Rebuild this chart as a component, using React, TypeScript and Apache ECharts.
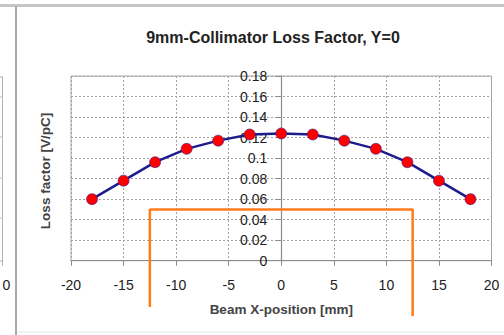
import React, { useEffect, useRef } from "react";
import * as echarts from "echarts";

const positions = [-18, -15, -12, -9, -6, -3, 0, 3, 6, 9, 12, 15, 18];
const lossFactor = [0.06, 0.078, 0.096, 0.109, 0.117, 0.123, 0.124, 0.123, 0.117, 0.109, 0.096, 0.078, 0.06];
const collimatorX = [-12.5, -12.5, 12.5, 12.5];
const collimatorY = [-0.045, 0.05, 0.05, -0.054];

const FONT = "'Liberation Sans', Arial, sans-serif";
const GRID_LEFT = 71;
const GRID_RIGHT = 12.5;
const CHART_W = 504;

export default function App() {
  const ref = useRef<HTMLDivElement>(null);
  useEffect(() => {
    if (!ref.current) return;
    const chart = echarts.init(ref.current, null, { renderer: "svg" });
    const plotW = CHART_W - GRID_LEFT - GRID_RIGHT;
    chart.setOption({
      animation: false,
      backgroundColor: "#ffffff",
      title: {
        text: "9mm-Collimator Loss Factor, Y=0",
        left: 268,
        top: 24,
        textAlign: "center",
        textStyle: { fontFamily: FONT, fontSize: 16, fontWeight: "bold", color: "#222" },
      },
      grid: {
        left: GRID_LEFT,
        right: GRID_RIGHT,
        top: 76,
        bottom: 74.3,
        show: true,
        borderColor: "#a8a8a8",
        borderWidth: 1,
        containLabel: false,
      },
      xAxis: {
        type: "value",
        min: -20,
        max: 20,
        interval: 5,
        name: "Beam X-position [mm]",
        nameLocation: "middle",
        nameGap: 42,
        nameTextStyle: { fontFamily: FONT, fontSize: 13.5, fontWeight: "bold", color: "#444" },
        axisLine: { show: true, onZero: false, lineStyle: { color: "#8a8a8a", width: 1.2 } },
        axisTick: { show: true, length: 5, lineStyle: { color: "#8a8a8a" } },
        axisLabel: { fontFamily: FONT, fontSize: 14, color: "#222", margin: 17 },
        splitLine: { show: true, lineStyle: { color: "#a0a0a0", type: [2, 2], width: 1 } },
      },
      yAxis: {
        type: "value",
        min: 0,
        max: 0.18,
        interval: 0.02,
        offset: -plotW / 2,
        axisLine: { show: true, onZero: false, lineStyle: { color: "#8a8a8a", width: 1.2 } },
        axisTick: { show: true, length: 6, lineStyle: { color: "#8a8a8a" } },
        axisLabel: { fontFamily: FONT, fontSize: 14, color: "#222", margin: 14 },
        splitLine: { show: true, lineStyle: { color: "#a0a0a0", type: [2, 2], width: 1 } },
      },
      graphic: [
        { type: "rect", shape: { x: 0, y: 4, width: 504, height: 3 }, style: { fill: "#c6c6c6" }, silent: true },
        { type: "rect", shape: { x: 15, y: 6, width: 2, height: 329 }, style: { fill: "#a8a8a8" }, silent: true },
        { type: "line", shape: { x1: 17, y1: 332, x2: 504, y2: 332 }, style: { stroke: "#e8e8e8", lineWidth: 1 }, silent: true },
        { type: "line", shape: { x1: 2.5, y1: 77, x2: 2.5, y2: 266 }, style: { stroke: "#b0b0b0", lineWidth: 1 }, silent: true },
        { type: "line", shape: { x1: 0, y1: 77, x2: 2.5, y2: 77 }, style: { stroke: "#b0b0b0", lineWidth: 1 }, silent: true },
        { type: "line", shape: { x1: 0, y1: 97, x2: 2.5, y2: 97 }, style: { stroke: "#c0c0c0", lineWidth: 1 }, silent: true },
        { type: "line", shape: { x1: 0, y1: 137, x2: 2.5, y2: 137 }, style: { stroke: "#c0c0c0", lineWidth: 1 }, silent: true },
        { type: "line", shape: { x1: 0, y1: 178, x2: 2.5, y2: 178 }, style: { stroke: "#c0c0c0", lineWidth: 1 }, silent: true },
        { type: "line", shape: { x1: 0, y1: 218, x2: 2.5, y2: 218 }, style: { stroke: "#c0c0c0", lineWidth: 1 }, silent: true },
        { type: "line", shape: { x1: 0, y1: 261, x2: 2.5, y2: 261 }, style: { stroke: "#b0b0b0", lineWidth: 1 }, silent: true },
        {
          type: "text",
          x: 6.5,
          y: 285,
          style: { text: "0", font: `14px ${FONT}`, fill: "#222", align: "center", verticalAlign: "middle" },
          silent: true,
        },
        {
          type: "text",
          x: 45,
          y: 171,
          rotation: Math.PI / 2,
          style: {
            text: "Loss factor [V/pC]",
            font: `bold 13.5px ${FONT}`,
            fill: "#444",
            align: "center",
            verticalAlign: "middle",
          },
          silent: true,
        },
      ],
      series: [
        {
          type: "line",
          data: collimatorX.map((x, i) => [x, collimatorY[i]]),
          clip: false,
          symbol: "none",
          lineStyle: { color: "#ff7b1c", width: 2.5 },
          z: 3,
        },
        {
          type: "line",
          data: positions.map((x, i) => [x, lossFactor[i]]),
          symbol: "circle",
          symbolSize: 11,
          lineStyle: { color: "#1c1c8c", width: 2.5 },
          itemStyle: { color: "#ff0000", borderColor: "#3a1a8a", borderWidth: 0.6 },
          z: 4,
        },
      ],
    });
    return () => chart.dispose();
  }, []);
  return <div ref={ref} style={{ position: "fixed", left: 0, top: 0, width: CHART_W, height: 335 }} />;
}
